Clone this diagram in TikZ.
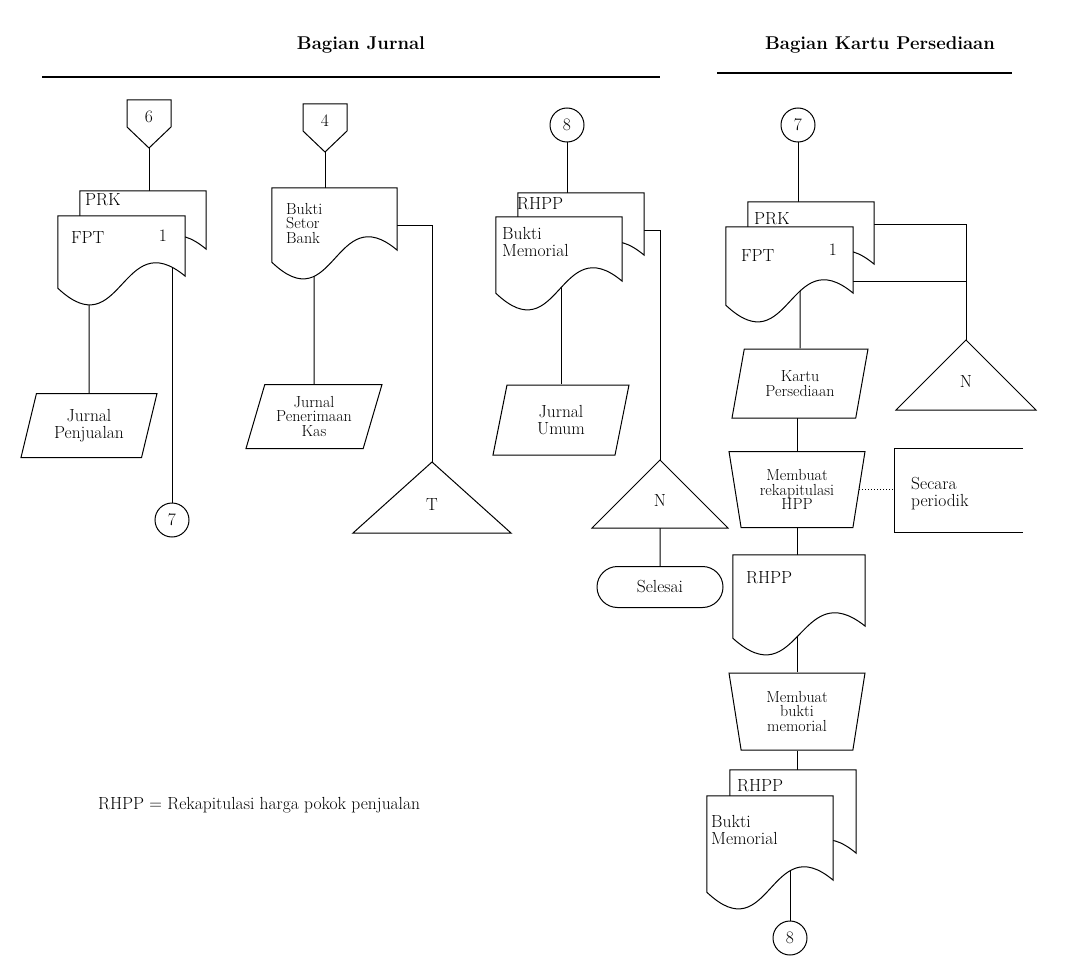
\documentclass[tikz,border=0pt]{standalone}
\usepackage{fontspec}
\usetikzlibrary{shapes.geometric, shapes.misc, backgrounds, calc, positioning}

% bentuk dokumen dengan bawah bergelombang
\newcommand{\dokumen}[1]{%
  \draw[garis, fill=white] (#1.north west) -- (#1.north east)
    -- ([yshift=12pt]#1.south east)
    .. controls ([yshift=65pt]#1.south) and ([yshift=-60pt]#1.south) .. (#1.south west) -- cycle;}
% penghubung halaman lain (segi lima)
\newcommand{\halaman}[4]{%
  \draw[garis, fill=white] (#2-22,#3-48) -- (#2+22,#3-48) -- (#2+22,#3-21) -- (#2,#3) -- (#2-22,#3-21) -- cycle;
  \node[teks] (#1) at (#2,#3-31) {#4};}
% arsip (segitiga)
\newcommand{\arsip}[6]{%
  \draw[garis, fill=white] (#2,#3) -- (#2+#4,#3+#5) -- (#2-#4,#3+#5) -- cycle;
  \node[teks] (#1) at (#2,#3+0.6*#5) {#6};}

\tikzset{
  garis/.style={line width=1pt},
  teks/.style={font=\fontsize{17.5}{17}\selectfont, align=center, inner sep=1pt},
  kecil/.style={font=\fontsize{16}{14.5}\selectfont, align=center, inner sep=1pt},
  judul/.style={font=\fontsize{18.5}{20}\selectfont\bfseries},
  dok/.style={rectangle, draw=none, inner sep=0pt},
  konektor/.style={circle, draw, fill=white, garis, minimum size=34pt, inner sep=0pt, teks},
  jurnal/.style={trapezium, trapezium left angle=66, trapezium right angle=114, trapezium stretches body=true, draw, fill=white, garis, minimum width=136pt, minimum height=64pt, inner sep=0pt, teks},
  manual/.style={trapezium, trapezium left angle=106, trapezium right angle=106, trapezium stretches body=true, draw, fill=white, garis, minimum width=136pt, minimum height=76pt, inner sep=0pt, kecil},
  terminal/.style={rounded rectangle, draw, fill=white, garis, minimum width=128pt, minimum height=41pt, teks},
}

\begin{document}
\begin{tikzpicture}[x=1pt, y=-1pt]
\useasboundingbox (0,0) rectangle (1071,963);

% Judul bagian
\node[judul] (hdrjurnal) at (361,45) {Bagian Jurnal};
\draw[line width=2.5pt] (42,77) -- (660,77);
\node[judul] (hdrkartu) at (880,45) {Bagian Kartu Persediaan};
\draw[line width=2.5pt] (717,73) -- (1012,73);

% Kolom 1: FPT dari penjualan
\halaman{off6}{149}{148}{6}
\node[dok, minimum width=126pt, minimum height=70pt] (prk1) at (143,226) {};
\dokumen{prk1}
\node[dok, minimum width=127pt, minimum height=72pt] (fpt1) at (121.5,252) {};
\dokumen{fpt1}
\node[teks, anchor=west] (prk1-t) at (84,200) {PRK};
\node[teks, anchor=west] (fpt1-t) at (70,238) {FPT};
\node[teks] (fpt1-n) at (163,236) {1};
\node[jurnal] (jp) at (89,425.5) {Jurnal\\Penjualan};
\node[konektor] (c7a) at (172,520) {7};

% Kolom 2: bukti setor bank
\halaman{off4}{325}{152}{4}
\node[dok, minimum width=125pt, minimum height=74pt] (bsb) at (334.5,225) {};
\dokumen{bsb}
\node[kecil, anchor=north west, align=left] (bsb-t) at (285,202) {Bukti\\Setor\\Bank};
\node[jurnal, kecil] (jpk) at (314,416.5) {Jurnal\\Penerimaan\\Kas};
\arsip{segT}{432}{462}{79}{71}{T}

% Kolom 3: bukti memorial
\node[konektor] (c8a) at (567,125) {8};
\node[dok, minimum width=126pt, minimum height=74pt] (rhpp1) at (581,230) {};
\dokumen{rhpp1}
\node[dok, minimum width=126pt, minimum height=76pt] (bm1) at (559,255) {};
\dokumen{bm1}
\node[teks, anchor=west] (rhpp1-t) at (516,204) {RHPP};
\node[teks, anchor=north west, align=left] (bm1-t) at (501,226) {Bukti\\Memorial};
\node[jurnal, minimum height=70pt] (ju) at (561,420) {Jurnal\\Umum};
\arsip{segN1}{660}{460}{68}{68}{N}
\node[terminal] (selesai) at (660,587) {Selesai};

% Kolom 4: bagian kartu persediaan
\node[konektor] (c7b) at (798,125) {7};
\node[dok, minimum width=126pt, minimum height=74pt] (prk2) at (811,239) {};
\dokumen{prk2}
\node[dok, minimum width=127pt, minimum height=78pt] (fpt2) at (789.5,266) {};
\dokumen{fpt2}
\node[teks, anchor=west] (prk2-t) at (753,219) {PRK};
\node[teks, anchor=west] (fpt2-t) at (740,256) {FPT};
\node[teks] (fpt2-n) at (833,250) {1};
\coordinate (prk2-kanan) at ([yshift=15pt]prk2.east);
\coordinate (fpt2-kanan) at ([yshift=-15pt]fpt2.east);
\arsip{segN2}{966}{340}{70}{70}{N}
\node[jurnal, kecil, minimum height=69pt] (kp) at (800,383.5) {Kartu\\Persediaan};
\node[manual] (rekap) at (797,489.5) {Membuat\\rekapitulasi\\HPP};
\node[dok, minimum width=128pt, minimum height=83pt] (ctt) at (959,490.5) {};
\draw[garis] (ctt.north east) -- (ctt.north west) -- (ctt.south west) -- (ctt.south east);
\node[teks, anchor=west, align=left] (ctt-t) at (910,494) {Secara\\periodik};
\node[dok, minimum width=132pt, minimum height=83pt] (rhpp2) at (799,596.5) {};
\dokumen{rhpp2}
\node[teks, anchor=west] (rhpp2-t) at (745,578) {RHPP};
\node[manual, minimum height=77pt] (bbm) at (797,711.5) {Membuat\\bukti\\memorial};
\node[dok, minimum width=126pt, minimum height=95pt] (rhpp3) at (793,817.5) {};
\dokumen{rhpp3}
\node[dok, minimum width=126pt, minimum height=96pt] (bm2) at (770,844) {};
\dokumen{bm2}
\node[teks, anchor=west] (rhpp3-t) at (736,786) {RHPP};
\node[teks, anchor=north west, align=left] (bm2-t) at (710,814) {Bukti\\Memorial};
\node[konektor] (c8b) at (790,938) {8};

% Keterangan
\node[teks, anchor=west] (ket) at (97,805) {RHPP = Rekapitulasi harga pokok penjualan};

% Garis alir (di belakang bentuk)
\begin{scope}[on background layer]
  \draw[garis] (off6) -- (off6 |- prk1.center);
  \draw[garis] (jp) -- (jp |- fpt1.center);
  \draw[garis] (c7a) -- (c7a |- fpt1.center);
  \draw[garis] (off4) -- (off4 |- bsb.center);
  \draw[garis] (jpk) -- (jpk |- bsb.center);
  \draw[garis] (bsb.east) -| (segT);
  \draw[garis] (c8a) -- (c8a |- rhpp1.center);
  \draw[garis] (ju) -- (ju |- bm1.center);
  \draw[garis] (rhpp1.east) -| (segN1);
  \draw[garis] (segN1) -- (selesai);
  \draw[garis] (c7b) -- (c7b |- prk2.center);
  \draw[garis] (prk2-kanan) -| (segN2);
  \draw[garis] (fpt2-kanan) -- (fpt2-kanan -| segN2);
  \draw[garis] (kp) -- (kp |- fpt2.center);
  \draw[garis] (rekap) -- (rekap |- kp.center);
  \draw[garis, dotted] (rekap.east) -- (rekap.east -| ctt.west);
  \draw[garis] (rekap) -- (rekap |- rhpp2.center);
  \draw[garis] (bbm) -- (bbm |- rhpp2.center);
  \draw[garis] (bbm) -- (bbm |- rhpp3.center);
  \draw[garis] (c8b) -- (c8b |- bm2.center);
\end{scope}
\end{tikzpicture}
\end{document}
